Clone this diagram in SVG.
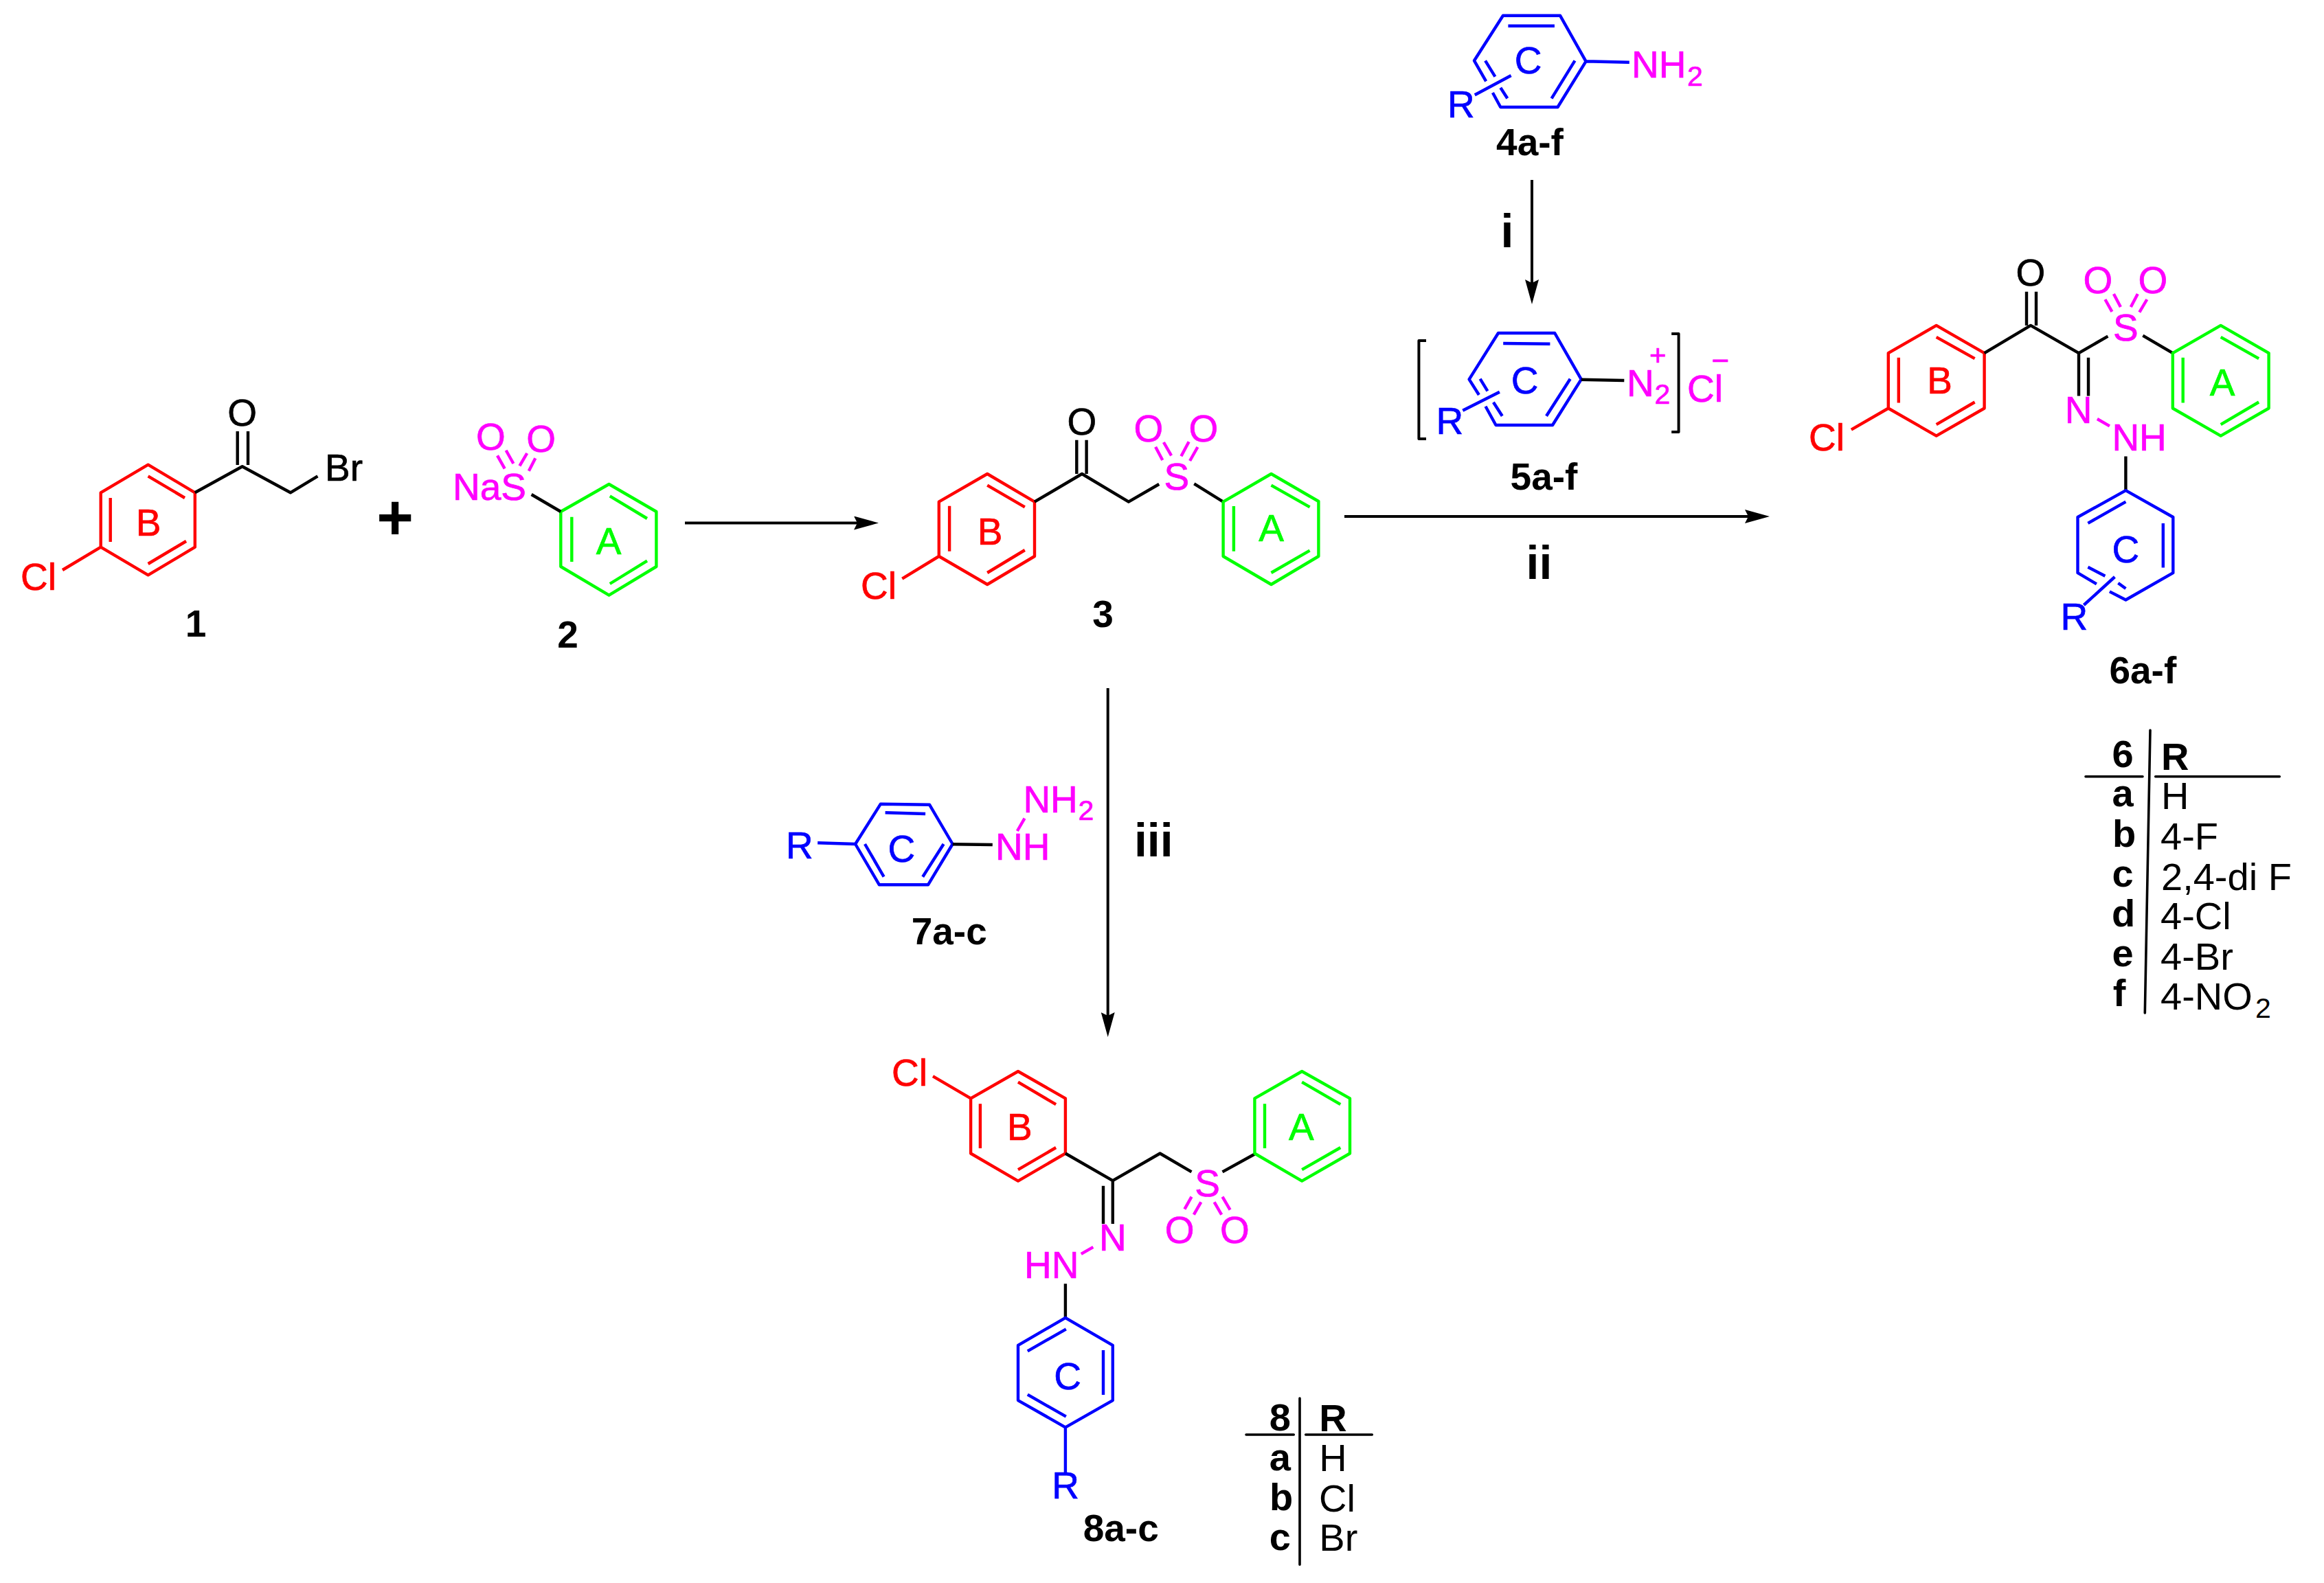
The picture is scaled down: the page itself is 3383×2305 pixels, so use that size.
<svg xmlns="http://www.w3.org/2000/svg" width="3383" height="2305" viewBox="0 0 3383 2305">
<style>
text{font-family:"Liberation Sans",Arial,sans-serif;font-size:55px}
.m{text-anchor:middle}
.lb{font-weight:bold;font-size:55px}
.rm{font-weight:bold;font-size:68px;text-anchor:middle}
.sub{font-size:41px}
.tb{font-size:56px}
.tr{fill:#f00;stroke:#f00;stroke-width:.7}.tg{fill:#0f0;stroke:#0f0;stroke-width:.7}.tu{fill:#00f;stroke:#00f;stroke-width:.7}.tp{fill:#f0f;stroke:#f0f;stroke-width:.7}.tk{fill:#000;stroke:#000;stroke-width:.7}
path,line{fill:none;stroke-width:4.4;stroke-linejoin:round}
.sr{stroke:#f00}.sg{stroke:#0f0}.su{stroke:#00f}.sp{stroke:#f0f}.sk{stroke:#000}
.arrow{stroke:#000;stroke-width:4;marker-end:url(#head)}
.thin{stroke:#000;stroke-width:3.6;stroke-linecap:round}
.hd{fill:#000;stroke:none}
</style>
<defs>
<marker id="head" markerUnits="userSpaceOnUse" viewBox="0 -10 36 20" refX="5" refY="0" markerWidth="36" markerHeight="20" orient="auto"><path class="hd" d="M36,0 L0,-10 L5,0 L0,10Z"/></marker>
</defs>
<rect width="3383" height="2305" fill="#fff"/>

<g id="connectors">
<line class="arrow" x1="997" y1="761.5" x2="1248" y2="761.5"/>
<line class="arrow" x1="1957" y1="752" x2="2545" y2="752"/>
<line class="arrow" x1="2230" y1="262" x2="2230" y2="412"/>
<line class="arrow" x1="1612.7" y1="1002" x2="1612.7" y2="1479"/>
</g>

<g id="labels">
<text class="rm" x="2194" y="360">i</text>
<text class="rm" x="2240.5" y="842.7">ii</text>
<text class="rm" x="1679.3" y="1246.7">iii</text>
<text x="575" y="785" class="m" style="font-size:92px;font-weight:bold">+</text>
</g>

<g id="compound-1">
<path class="sr" d="M215.6,676.7L283.8,717.3V796.7L215.6,837.3L146.7,796.7V717.3ZM215.6,693.3L269,725M160.7,725V789M215.6,821L271,788M146.7,796.7L91,830"/>
<path class="sk" d="M283.8,717.3L352.7,679.3L422.8,717.3L462.4,693.3M345.7,628V677M361,628V677"/>
<text class="m tk" x="352.7" y="620">O</text>
<text class="tk" x="473" y="700">Br</text>
<text class="tr" x="30" y="859">Cl</text>
<text class="m tr" x="216" y="780">B</text>
<text class="m lb" x="285" y="927">1</text>
</g>

<g id="compound-2">
<path class="sg" d="M886.5,705L955.4,745V825L886.5,866.7L816.3,825V745ZM887.8,722.3L942,755M832.3,752.7V818M887.8,850L942,816.7"/>
<path class="sk" d="M773.6,720L816.3,745"/>
<path class="sp" d="M724,663.3L734.7,682.3M736.6,655.7L747.4,675M779.3,667.3L769.8,685.7M767.2,660L756.4,678.3"/>
<text class="tp" x="659" y="728">NaS</text>
<text class="m tp" x="714.3" y="655">O</text>
<text class="m tp" x="787.6" y="658">O</text>
<text class="m tg" x="886" y="807">A</text>
<text class="m lb" x="826.5" y="943">2</text>
</g>

<g id="compound-3">
<path class="sr" d="M1437.2,690L1506,730.7V810L1437.2,851L1366.8,810V730.7ZM1437.2,706.7L1491.8,738.3M1382.1,736.7V802.7M1437.2,834L1491.8,801M1366.8,810L1313.3,842.7"/>
<path class="sk" d="M1506,730.7L1575,690L1642.9,730.7L1687.2,705M1738.3,704.3L1780.6,730.7M1567.3,640.7V690M1581.6,640.7V690"/>
<path class="sg" d="M1850.5,690L1919.4,730V810L1850.5,851L1780.6,810V730.7ZM1850.5,706.7L1906.6,738.3M1795.9,737V802.7M1850.5,834L1906.6,801.7"/>
<path class="sp" d="M1682.1,650.7L1692.3,670M1693.9,644L1705.1,663.3M1730.6,643.3L1719.4,664.3M1743.4,651L1732.1,671"/>
<text class="m tk" x="1575" y="633">O</text>
<text class="m tp" x="1672" y="642.7">O</text>
<text class="m tp" x="1752" y="642.7">O</text>
<text class="m tp" x="1712.8" y="712.7">S</text>
<text class="m tg" x="1850.5" y="788">A</text>
<text class="m tr" x="1441" y="793">B</text>
<text class="tr" x="1253" y="872.3">Cl</text>
<text class="m lb" x="1605.6" y="912.7">3</text>
</g>

<g id="compound-4">
<path class="su" d="M2163.2,118.3L2146,88.3L2187.9,22.7H2271L2308.6,89.3L2267.5,156H2184.3L2172.9,135M2195.4,37.7H2262.9M2292.5,88.3L2258.6,143.3M2162.1,88.3L2176.4,111.7M2184.3,127.7L2194.3,143.3M2146.8,138.3L2199.6,110M2308.6,89.3L2371.8,90.7"/>
<text class="tu" x="2107" y="170.7">R</text>
<text class="m tu" x="2224.6" y="107">C</text>
<text class="tp" x="2375" y="113.3">NH</text>
<text class="sub tp" x="2456" y="125">2</text>
<text class="m lb" x="2227" y="226">4a-f</text>
</g>

<g id="compound-5">
<path class="su" d="M2152.9,575L2138.6,552.3L2181,485H2263.2L2301.8,552.3L2260,619H2177.5L2162.5,591.7M2188.2,500L2256.4,500.7M2285.7,551.7L2251,605.7M2154.6,551.7L2165.4,569.3M2173.9,585.7L2186.8,605.7M2129.3,597.7L2182.9,570.7"/>
<path class="sk" d="M2301.8,552.7L2364.3,554"/>
<path class="sk" style="stroke-width:4" d="M2076,496H2065.4V639H2076M2433.2,486H2443.6V629H2433.2"/>
<text class="tu" x="2090.5" y="631.7">R</text>
<text class="m tu" x="2219.6" y="573.3">C</text>
<text class="tp" x="2368" y="577.3">N</text>
<text class="sub tp" x="2408.5" y="587.7">2</text>
<text class="m tp" x="2413.2" y="532" style="font-size:42px">+</text>
<text class="tp" x="2456" y="585">Cl<tspan dx="-16.4" dy="-45" style="font-size:44px">−</tspan></text>
<text class="m lb" x="2247.5" y="712.7">5a-f</text>
</g>

<g id="compound-6">
<path class="sr" d="M2818.7,473.9L2888.6,514.1V594.5L2818.7,634.6L2748.8,594.5V514.1ZM2818.7,490.9L2874.6,522.1M2763.8,520.8V586.4M2818.7,618.1L2874.6,585.5M2748.8,594.5L2694.9,625.7"/>
<path class="sk" d="M2888.6,514.1L2956,473.9L3026,514.1L3068.4,489.6M3119.3,488.7L3162.8,514.1M2950,424.8V473.9M2964,424.8V473.9M3026,514.1V576.6M3040,520.8V576.6M3094.4,664.5V714"/>
<path class="sg" d="M3232.7,473.9L3302.6,514.1V594.5L3232.7,634.6L3162.8,594.5V514.1ZM3232.7,490.9L3288.1,522.1M3177.7,520.8V586.4M3232.7,618.1L3288.1,585.5"/>
<path class="sp" d="M3052.9,610L3070.9,620.4M3064.4,436L3074.4,453.8M3076.9,428L3086.9,447.1M3111.8,428L3101.8,447.1M3125.3,436L3114.3,454.7"/>
<path class="su" d="M3051.9,850.3L3024.5,834.2V753L3094.4,714.1L3163.3,753V834.2L3094.4,873.5L3070.9,861.4M3094.4,730.6L3039.4,761.9M3148.8,761.9V826.6M3039.4,825.7L3064.4,838.7M3083.4,848.9L3094.4,857M3078.4,840L3033.4,881"/>
<text class="m tk" x="2956" y="416">O</text>
<text class="m tp" x="3053.9" y="427">O</text>
<text class="m tp" x="3133.8" y="427">O</text>
<text class="m tp" x="3094.4" y="496.3">S</text>
<text class="m tp" x="3025.5" y="615.9">N</text>
<text class="tp" x="3074.4" y="656">NH</text>
<text class="m tg" x="3235.2" y="575.7">A</text>
<text class="m tr" x="2823.7" y="573">B</text>
<text class="tr" x="2633" y="656">Cl</text>
<text class="tu" x="2999.5" y="917.2">R</text>
<text class="m tu" x="3094.4" y="818.6">C</text>
<text class="m lb" x="3119.3" y="995.4">6a-f</text>
</g>

<g id="table-6">
<path class="thin" d="M3130,1063.3L3122.3,1475M3036,1130.7H3119M3137.7,1130.7H3318.3"/>
<text class="m lb tb" x="3090" y="1116.7">6</text>
<text class="m lb tb" x="3090" y="1174">a</text>
<text class="m lb tb" x="3092" y="1232.7">b</text>
<text class="m lb tb" x="3090" y="1290.7">c</text>
<text class="m lb tb" x="3091" y="1349">d</text>
<text class="m lb tb" x="3090" y="1406.7">e</text>
<text class="m lb tb" x="3085" y="1465">f</text>
<text class="lb tb" x="3146" y="1121">R</text>
<text class="tb" x="3146" y="1178">H</text>
<text class="tb" x="3145" y="1237">4-F</text>
<text class="tb" x="3146" y="1295.7">2,4-di F</text>
<text class="tb" x="3145" y="1353">4-Cl</text>
<text class="tb" x="3145" y="1411.7">4-Br</text>
<text class="tb" x="3145" y="1470">4-NO</text>
<text class="sub" x="3283" y="1481.7">2</text>
</g>

<g id="compound-7">
<path class="su" d="M1281.9,1170.7L1353,1171.7L1386.7,1229L1351,1288.3H1279.9L1245.1,1229ZM1288.6,1183.3L1347.1,1185M1259,1229L1286.6,1276.7M1373.6,1229L1343.2,1276.7M1190.2,1227.3L1245.1,1229"/>
<path class="sk" d="M1386.7,1229.3L1444.8,1230"/>
<path class="sp" d="M1491.5,1191.7L1480.8,1210"/>
<text class="tu" x="1144" y="1250">R</text>
<text class="m tu" x="1312.3" y="1255">C</text>
<text class="tp" x="1449" y="1252.3">NH</text>
<text class="tp" x="1489.4" y="1183.3">NH</text>
<text class="sub tp" x="1569.5" y="1194">2</text>
<text class="m lb" x="1381.7" y="1375">7a-c</text>
</g>

<g id="compound-8">
<path class="sr" d="M1482,1560L1550.9,1599.3V1679.5L1482,1719.6L1413.1,1679.5V1599.3ZM1482,1575.7L1537.1,1608.2M1426.9,1607.3V1672M1482,1703.1L1537.1,1671M1358,1567.2L1413.1,1599.3"/>
<path class="sk" d="M1550.9,1679.5L1619.8,1719.2L1688.6,1679.5L1734.5,1706.4M1779.5,1706.4L1826.4,1680.5M1606,1726.7V1782M1619.8,1719.2V1782M1550.9,1869.2V1918.8"/>
<path class="sg" d="M1895.2,1560L1965,1599.3V1679.5L1895.2,1719.6L1826.4,1679.5V1599.3ZM1895.2,1575.7L1951.3,1608.2M1841,1607.3V1672M1895.2,1703.1L1951.3,1671"/>
<path class="sp" d="M1734.5,1742.7L1724.4,1760.7M1748.3,1750.3L1737.8,1768.7M1767.6,1750.3L1778.2,1768.7M1779.5,1742.7L1790.6,1761.6M1591.3,1815.9L1573.8,1825.8"/>
<path class="su" d="M1550.9,1918.8L1619.8,1958.9V2039.1L1550.9,2078.3L1482,2039.1V1958.9ZM1551.8,1935.3L1495.8,1967.4M1606,1966V2031M1495.8,2030.6L1551.8,2062.7M1550.9,2078.3V2147.7"/>
<text class="tr" x="1298" y="1581.3">Cl</text>
<text class="m tr" x="1484.3" y="1659.7">B</text>
<text class="m tg" x="1894.3" y="1659.7">A</text>
<text class="m tp" x="1757.5" y="1741.8">S</text>
<text class="m tp" x="1717.1" y="1810.2">O</text>
<text class="m tp" x="1797.4" y="1810.2">O</text>
<text class="m tp" x="1619.8" y="1820.6">N</text>
<text class="tp" x="1491" y="1861.2">HN</text>
<text class="m tu" x="1554" y="2022.6">C</text>
<text class="m tu" x="1551" y="2181.6">R</text>
<text class="m lb" x="1631.7" y="2244.4">8a-c</text>
</g>

<g id="table-8">
<path class="thin" d="M1892,2036V2278.3M1814,2089H1883.3M1900.7,2089H1997.3"/>
<text class="m lb tb" x="1863.3" y="2083.3">8</text>
<text class="m lb tb" x="1863.3" y="2140.7">a</text>
<text class="m lb tb" x="1865" y="2199">b</text>
<text class="m lb tb" x="1863.3" y="2256.7">c</text>
<text class="lb tb" x="1920.3" y="2084">R</text>
<text class="tb" x="1920.3" y="2142.3">H</text>
<text class="tb" x="1920" y="2200.7">Cl</text>
<text class="tb" x="1920.3" y="2258.3">Br</text>
</g>
</svg>
